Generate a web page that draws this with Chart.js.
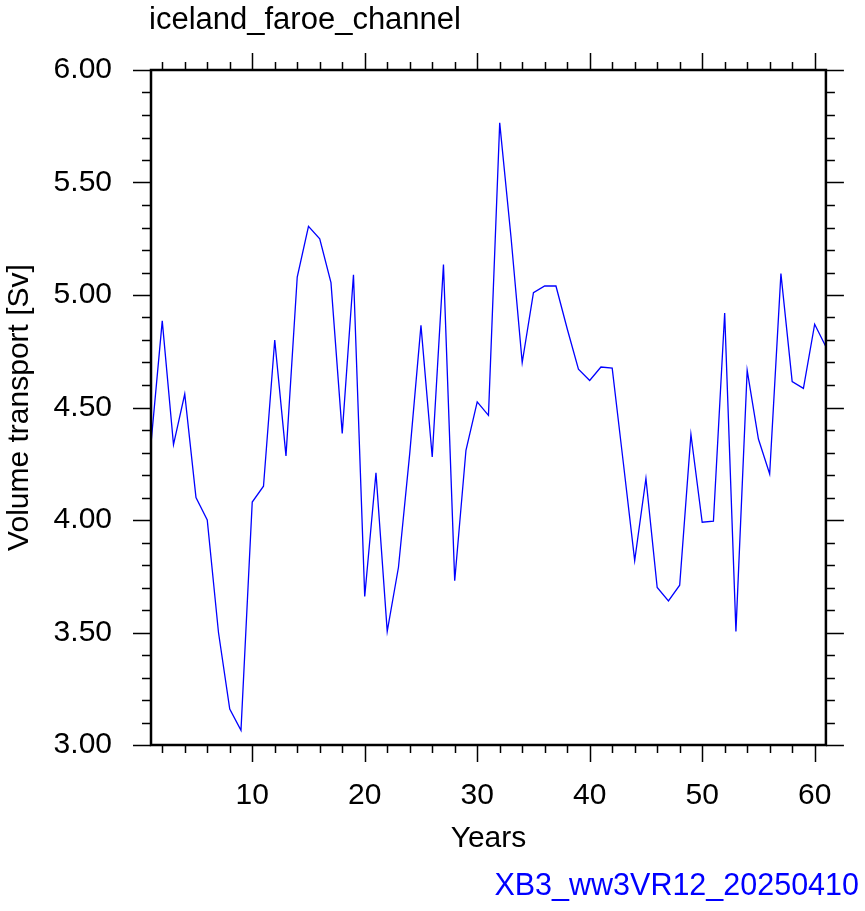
<!DOCTYPE html>
<html>
<head>
<meta charset="utf-8">
<script src="https://cdn.jsdelivr.net/npm/chart.js@4.4.1/dist/chart.umd.min.js"></script>
<style>
html, body { margin: 0; padding: 0; background: #fff; }
canvas { display: block; }
</style>
</head>
<body>
<canvas id="transport" width="865" height="911"></canvas>
<script>
// years on the x axis
var years = [1, 2, 3, 4, 5, 6, 7, 8, 9, 10,
    11, 12, 13, 14, 15, 16, 17, 18, 19, 20,
    21, 22, 23, 24, 25, 26, 27, 28, 29, 30,
    31, 32, 33, 34, 35, 36, 37, 38, 39, 40,
    41, 42, 43, 44, 45, 46, 47, 48, 49, 50,
    51, 52, 53, 54, 55, 56, 57, 58, 59, 60, 61];
// volume transport [Sv]
var transport = [4.34, 4.885, 4.335, 4.56, 4.10, 4.00, 3.50, 3.16, 3.065, 4.08,
    4.15, 4.80, 4.285, 5.08, 5.305, 5.25, 5.055, 4.385, 5.09, 3.66,
    4.21, 3.505, 3.79, 4.295, 4.865, 4.28, 5.135, 3.73, 4.31, 4.525,
    4.465, 5.765, 5.26, 4.70, 5.01, 5.04, 5.04, 4.85, 4.67, 4.62,
    4.68, 4.675, 4.25, 3.82, 4.185, 3.70, 3.64, 3.71, 4.38, 3.99,
    3.995, 4.92, 3.505, 4.665, 4.36, 4.205, 5.095, 4.615, 4.585, 4.87, 4.77];
// labelled ticks
var xLabelTicks = [10, 20, 30, 40, 50, 60];
var yLabelTicks = [3.0, 3.5, 4.0, 4.5, 5.0, 5.5, 6.0];

var titleText = "iceland_faroe_channel";
var footerText = "XB3_ww3VR12_20250410";
var fontFam = "'Liberation Sans', Arial, Helvetica, sans-serif";

// minor tick marks: every 2 years, every 0.1 Sv
var xMinor = [];
for (let v = 2; v <= 60; v += 2) xMinor.push(v);
var yMinor = [];
for (let i = 30; i <= 60; i++) yMinor.push(i / 10);

var framePlugin = {
    id: "frame",
    afterDatasetsDraw(chart){
        var ctx = chart.ctx;
        var a = chart.chartArea;
        var xs = chart.scales.x;
        var ys = chart.scales.y;
        ctx.save();
        ctx.strokeStyle = "#000";
        ctx.lineWidth = 1.5;
        ctx.beginPath();
        xMinor.forEach(function(v){
            var p = Math.round(xs.getPixelForValue(v)) + 0.5;
            var len = (v % 10 == 0) ? 17 : 8;
            ctx.moveTo(p, a.bottom); ctx.lineTo(p, a.bottom + len);
            ctx.moveTo(p, a.top); ctx.lineTo(p, a.top - len);
        });
        yMinor.forEach(function(v){
            var p = Math.round(ys.getPixelForValue(v)) + 0.5;
            var len = (Math.round(v * 10) % 5 == 0) ? 18 : 9;
            ctx.moveTo(a.left, p); ctx.lineTo(a.left - len, p);
            ctx.moveTo(a.right, p); ctx.lineTo(a.right + len, p);
        });
        ctx.stroke();
        ctx.lineWidth = 2.5;
        ctx.strokeRect(a.left, a.top, a.right - a.left, a.bottom - a.top);

        ctx.textBaseline = "middle";
        ctx.fillStyle = "#000";
        ctx.textAlign = "left";
        ctx.font = "31px " + fontFam;
        ctx.fillText(titleText, 149, 20);
        ctx.fillStyle = "#0000ff";
        ctx.textAlign = "right";
        ctx.font = "30.5px " + fontFam;
        ctx.fillText(footerText, 859, 887);
        ctx.restore();
    }
};

var axisFont = { family: fontFam, size: 30 };

new Chart(document.getElementById("transport"), {
    type: "line",
    data: {
        datasets: [{
            data: years.map(function(yr, i){ return { x: yr, y: transport[i] }; }),
            borderColor: "#0000ff",
            borderWidth: 1.3,
            pointRadius: 0,
            tension: 0,
            fill: false
        }]
    },
    options: {
        responsive: false,
        animation: false,
        devicePixelRatio: 1,
        layout: { padding: { top: 70, right: 39, left: 0, bottom: 0 } },
        plugins: { legend: { display: false }, tooltip: { enabled: false }, title: { display: false } },
        scales: {
            x: {
                type: "linear",
                min: 1,
                max: 61,
                afterBuildTicks: function(s){ s.ticks = xLabelTicks.map(function(v){ return { value: v }; }); },
                afterFit: function(s){ s.height = 166; },
                grid: { display: false, drawTicks: false },
                border: { display: false },
                ticks: { font: axisFont, color: "#000", padding: 33, maxRotation: 0, autoSkip: false },
                title: { display: true, text: "Years", font: axisFont, color: "#000", padding: { top: 0, bottom: 54 } }
            },
            y: {
                type: "linear",
                min: 3,
                max: 6,
                afterBuildTicks: function(s){ s.ticks = yLabelTicks.map(function(v){ return { value: v }; }); },
                afterFit: function(s){ s.width = 151; },
                grid: { display: false, drawTicks: false },
                border: { display: false },
                ticks: { font: axisFont, color: "#000", padding: 39, autoSkip: false,
                    callback: function(v){ return Number(v).toFixed(2); } },
                title: { display: true, text: "Volume transport [Sv]", font: axisFont, color: "#000", padding: { top: 2, bottom: 0 } }
            }
        }
    },
    plugins: [framePlugin]
});
</script>
</body>
</html>
